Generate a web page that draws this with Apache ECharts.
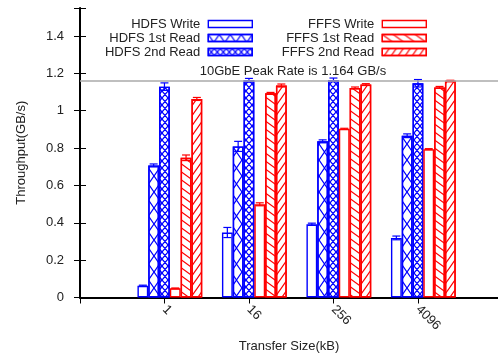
<!DOCTYPE html>
<html>
<head>
<meta charset="utf-8">
<script src="https://cdn.jsdelivr.net/npm/echarts@6/dist/echarts.min.js"></script>
<style>html,body{margin:0;padding:0;background:#fff}#c{width:498px;height:354px}</style>
</head>
<body>
<div id="c"></div>
<script>
// ---- data ----
const categories = ['1', '16', '256', '4096'];
const seriesNames = ['HDFS Write', 'HDFS 1st Read', 'HDFS 2nd Read', 'FFFS Write', 'FFFS 1st Read', 'FFFS 2nd Read'];
const hdfsWrite = [0.063, 0.348, 0.392, 0.319];
const hdfsRead1 = [0.707, 0.809, 0.836, 0.866];
const hdfsRead2 = [1.129, 1.163, 1.165, 1.147];
const fffsWrite = [0.049, 0.499, 0.903, 0.794];
const fffsRead1 = [0.748, 1.093, 1.122, 1.125];
const fffsRead2 = [1.063, 1.135, 1.140, 1.160];
const hdfsWriteErr = [0.003, 0.027, 0.006, 0.010];
const hdfsRead1Err = [0.008, 0.027, 0.008, 0.010];
const hdfsRead2Err = [0.020, 0.010, 0.010, 0.020];
const fffsWriteErr = [0.002, 0.008, 0.003, 0.003];
const fffsRead1Err = [0.015, 0.005, 0.005, 0.005];
const fffsRead2Err = [0.008, 0.008, 0.005, 0.003];
const peakRate = 1.164;
const peakText = '10GbE Peak Rate is 1.164 GB/s';
const yTickLabels = ['0', '0.2', '0.4', '0.6', '0.8', '1', '1.2', '1.4'];

// ---- styles ----
const BLUE = '#0000ff', RED = '#ff0000';
const FONT = 'Liberation Sans, Arial, Helvetica, sans-serif';
const BAR_W = 10.8;
const X_MAX = 4.947, Y_MAX = 1.55;

function bandBack(t) {
  const u = 100 - t;
  return 'M0,0L' + t + ',0L100,' + u + 'L100,100L' + u + ',100L0,' + t + 'Z' +
    'M0,' + u + 'L' + t + ',100L0,100ZM' + u + ',0L100,0L100,' + t + 'Z';
}
function bandFwd(t) {
  const u = 100 - t;
  return 'M100,0L100,' + t + 'L' + t + ',100L0,100L0,' + u + 'L' + u + ',0Z' +
    'M0,0L' + t + ',0L0,' + t + 'ZM100,' + u + 'L100,100L' + u + ',100Z';
}
function decal(path, w, h, color) {
  return { symbol: 'path://' + path, symbolSize: 1, symbolKeepAspect: false, dashArrayX: [w, 0], dashArrayY: [h, 0], rotation: 0, color: color };
}
const decals = [
  null,
  decal(bandBack(7) + bandFwd(7), 11, 16, BLUE),
  decal(bandBack(13) + bandFwd(13), 5.5, 7, BLUE),
  null,
  decal(bandBack(9), 11, 8, RED),
  decal(bandFwd(11), 7, 10, RED)
];
const colors = [BLUE, BLUE, BLUE, RED, RED, RED];
const values = [hdfsWrite, hdfsRead1, hdfsRead2, fffsWrite, fffsRead1, fffsRead2];
const errs = [hdfsWriteErr, hdfsRead1Err, hdfsRead2Err, fffsWriteErr, fffsRead1Err, fffsRead2Err];

const barSeries = seriesNames.map((name, i) => {
  const itemStyle = { color: '#ffffff', borderColor: colors[i], borderWidth: 1.4 };
  if (decals[i]) itemStyle.decal = decals[i];
  return {
    name: name,
    type: 'bar',
    xAxisIndex: 2,
    yAxisIndex: 2,
    barWidth: BAR_W,
    barGap: '0%',
    data: values[i],
    itemStyle: itemStyle,
    emphasis: { disabled: true },
    z: 3
  };
});

const errData = [];
values.forEach((arr, si) => arr.forEach((v, ci) => errData.push([ci, v, errs[si][ci], si])));

const errSeries = {
  type: 'custom',
  xAxisIndex: 2,
  yAxisIndex: 2,
  data: errData,
  z: 4,
  silent: true,
  renderItem: function (params, api) {
    const ci = api.value(0), v = api.value(1), e = api.value(2), si = api.value(3);
    const c = api.coord([ci, v]);
    const x = c[0] + (si - 2.5) * BAR_W;
    const yt = api.coord([ci, v + e])[1];
    const yb = api.coord([ci, v - e])[1];
    const hw = 4;
    const st = { stroke: colors[si], lineWidth: 1.2 };
    return {
      type: 'group',
      children: [
        { type: 'line', shape: { x1: x, y1: yt, x2: x, y2: yb }, style: st },
        { type: 'line', shape: { x1: x - hw, y1: yt, x2: x + hw, y2: yt }, style: st },
        { type: 'line', shape: { x1: x - hw, y1: yb, x2: x + hw, y2: yb }, style: st }
      ]
    };
  }
};

const peakSeries = {
  type: 'line',
  xAxisIndex: 0,
  yAxisIndex: 0,
  data: [],
  silent: true,
  markLine: {
    silent: true,
    symbol: 'none',
    animation: false,
    data: [{ yAxis: peakRate }],
    lineStyle: { color: '#aaaaaa', width: 1.5, type: 'solid' },
    label: {
      show: true,
      position: 'insideMiddleTop',
      formatter: peakText,
      color: '#222',
      fontSize: 13,
      fontFamily: FONT,
      distance: 3,
      padding: [0, 0, 0, 8]
    }
  },
  z: 2
};

function legendCfg(names, right) {
  return {
    data: names,
    orient: 'vertical',
    align: 'right',
    right: right,
    top: 17,
    padding: 0,
    itemWidth: 44,
    itemHeight: 7,
    itemGap: 0,
    icon: 'rect',
    selectedMode: false,
    itemStyle: { borderWidth: 1.4 },
    textStyle: { fontSize: 13, lineHeight: 14, color: '#222', fontFamily: FONT, padding: [0, 3, 0, 0] }
  };
}

const axisLbl = { fontSize: 13, color: '#222', fontFamily: FONT };

const option = {
  animation: false,
  backgroundColor: '#fff',
  textStyle: { fontFamily: FONT },
  legend: [
    legendCfg(seriesNames.slice(0, 3), 245),
    legendCfg(seriesNames.slice(3, 6), 71)
  ],
  grid: [
    { left: 80, right: 0, top: 8, bottom: 56.5, containLabel: false, outerBoundsMode: 'none' },
    { left: 127.6, width: 338, top: 8, bottom: 56.5, containLabel: false, outerBoundsMode: 'none' }
  ],
  xAxis: [
    {
      type: 'value', gridIndex: 0, min: 0, max: X_MAX, interval: 1,
      position: 'bottom',
      splitLine: { show: false },
      axisLine: { show: true, lineStyle: { color: '#000', width: 2 } },
      axisTick: { show: true, inside: true, length: 6, lineStyle: { color: '#000', width: 1 } },
      axisLabel: Object.assign({
        rotate: -45, margin: 10,
        formatter: function (v) {
          const i = Math.round(v);
          if (Math.abs(v - i) > 1e-6 || i < 1 || i > categories.length) return '';
          return categories[i - 1];
        }
      }, axisLbl),
      name: 'Transfer Size(kB)',
      nameLocation: 'middle',
      nameGap: 38,
      nameTextStyle: { fontSize: 13, color: '#222', fontFamily: FONT }
    },
    {
      type: 'value', gridIndex: 0, min: 0, max: X_MAX, interval: 1,
      position: 'top',
      splitLine: { show: false },
      axisLine: { show: true, lineStyle: { color: '#000', width: 1 } },
      axisTick: { show: true, inside: true, length: 6, lineStyle: { color: '#000', width: 1 } },
      axisLabel: { show: false }
    },
    {
      type: 'category', gridIndex: 1, data: categories, show: false
    }
  ],
  yAxis: [
    {
      type: 'value', gridIndex: 0, min: 0, max: Y_MAX, interval: 0.2,
      position: 'left',
      splitLine: { show: false },
      axisLine: { show: true, lineStyle: { color: '#000', width: 2 } },
      axisTick: { show: true, inside: true, length: 6, lineStyle: { color: '#000', width: 1 } },
      axisLabel: Object.assign({
        margin: 16,
        formatter: function (v) {
          const k = Math.round(v / 0.2);
          if (Math.abs(v / 0.2 - k) > 1e-6 || k >= yTickLabels.length) return '';
          return yTickLabels[k];
        }
      }, axisLbl),
      name: 'Throughput(GB/s)',
      nameLocation: 'middle',
      nameGap: 52,
      nameRotate: 90,
      nameTextStyle: { fontSize: 13, color: '#222', fontFamily: FONT }
    },
    {
      type: 'value', gridIndex: 0, min: 0, max: Y_MAX, interval: 0.2,
      position: 'right',
      splitLine: { show: false },
      axisLine: { show: true, lineStyle: { color: '#000', width: 1 } },
      axisTick: { show: true, inside: true, length: 6, lineStyle: { color: '#000', width: 1 } },
      axisLabel: { show: false }
    },
    {
      type: 'value', gridIndex: 1, min: 0, max: Y_MAX, show: false
    }
  ],
  series: barSeries.concat([errSeries, peakSeries])
};

const chart = echarts.init(document.getElementById('c'), null, { renderer: 'canvas' });
chart.setOption(option);
</script>
</body>
</html>
